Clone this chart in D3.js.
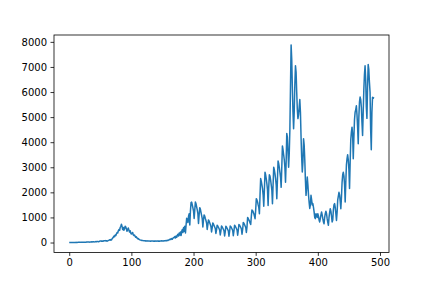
<!DOCTYPE html>
<html>
<head>
<meta charset="utf-8">
<script src="https://cdn.jsdelivr.net/npm/d3@7"></script>
<style>
  body { margin: 0; background: #fff; }
  svg { display: block; }
  .tick text { font-family: "DejaVu Sans", sans-serif; font-size: 10px; fill: #000; }
</style>
</head>
<body>
<script>
// daily values (day 0 .. 490)
var cases = [
  0, 2, 2, 3, 2, 1, 3,
  4, 3, 5, 4, 6, 3, 5,
  7, 8, 6, 9, 10, 6, 8,
  12, 11, 14, 13, 15, 10, 12,
  18, 20, 17, 22, 19, 15, 21,
  25, 28, 24, 30, 27, 22, 26,
  35, 38, 33, 40, 36, 30, 37,
  55, 62, 58, 50, 65, 48, 60,
  70, 66, 78, 60, 72, 55, 68,
  85, 90, 110, 95, 120, 100, 150,
  180, 210, 260, 230, 300, 280, 350,
  400, 380, 470, 520, 480, 600, 650,
  730, 640, 520, 600, 490, 560, 650,
  620, 540, 450, 520, 580, 500, 420,
  470, 380, 340, 360, 400, 310, 280,
  300, 250, 210, 230, 180, 150, 160,
  130, 120, 100, 95, 90, 80, 85,
  75, 70, 72, 65, 68, 60, 66,
  62, 58, 64, 55, 60, 52, 58,
  60, 56, 62, 54, 58, 50, 57,
  58, 55, 63, 52, 60, 54, 62,
  64, 60, 70, 58, 66, 60, 72,
  75, 70, 82, 68, 90, 78, 100,
  120, 110, 140, 125, 160, 135, 180,
  200, 190, 240, 180, 260, 210, 290,
  330, 260, 380, 300, 420, 280, 450,
  520, 400, 600, 450, 650, 380, 700,
  970, 880, 800, 1050, 1150, 700, 1250,
  1590, 1610, 1500, 1380, 1250, 960, 1300,
  1620, 1550, 1420, 1300, 1150, 760, 1100,
  1390, 1330, 1200, 1080, 950, 620, 900,
  1100, 1050, 960, 880, 780, 520, 700,
  900, 860, 790, 720, 640, 420, 580,
  780, 740, 680, 620, 560, 360, 500,
  690, 660, 610, 560, 500, 300, 450,
  660, 630, 580, 530, 470, 260, 420,
  650, 620, 570, 520, 460, 250, 430,
  660, 640, 590, 540, 480, 270, 450,
  690, 660, 610, 560, 500, 290, 480,
  720, 700, 650, 600, 540, 330, 520,
  800, 770, 720, 660, 600, 400, 620,
  1000, 960, 900, 850, 780, 720, 1050,
  1300, 1270, 1220, 1150, 1050, 950, 1300,
  1750, 1700, 1620, 1500, 1400, 1150, 1900,
  2550, 2450, 2300, 2150, 1900, 1450, 2100,
  2800, 2700, 2550, 2350, 2100, 1480, 2200,
  2700, 2650, 2500, 2300, 2100, 1550, 2300,
  3000, 2900, 2750, 2550, 2300, 1750, 2500,
  3250, 3150, 3000, 2800, 2600, 2200, 3000,
  3850, 3700, 3500, 3300, 3000, 2400, 3200,
  4350, 4200, 3600, 3000, 3550, 4500, 6200,
  7880, 7300, 6200, 5200, 4540, 5200, 6300,
  7050, 6800, 6000, 5300, 4940, 5100, 5400,
  5700, 5200, 4200, 3400, 2810, 3200, 4140,
  3900, 3300, 2500, 1880, 2200, 2610, 2300,
  1900, 1600, 1360, 1500, 1880, 1700, 1500,
  1550, 1400, 1220, 1000, 950, 1150, 1100,
  1000, 1150, 1050, 900, 820, 950, 1100,
  1220, 1100, 950, 820, 750, 1000, 1150,
  1250, 1150, 950, 800, 690, 1000, 1200,
  1350, 1250, 1050, 820, 900, 1300, 1500,
  1550, 1400, 1150, 880, 1200, 1700, 1850,
  2000, 1900, 1650, 1350, 1800, 2400, 2700,
  2800, 2650, 2300, 1620, 2400, 3100, 3350,
  3500, 3300, 2900, 2150, 3200, 4100, 4400,
  4600, 4300, 3340, 4200, 4900, 5200, 5300,
  5450, 5100, 4600, 3940, 5000, 5600, 5800,
  5700, 5400, 4800, 4270, 5200, 6100, 6700,
  7050, 6500, 5400, 4950, 6200, 7100, 6900,
  6400, 6000, 4500, 3700, 5200, 5790, 5750,
  5800
];
var xTicks = [0, 100, 200, 300, 400, 500];
var yTicks = [0, 1000, 2000, 3000, 4000, 5000, 6000, 7000, 8000];

var width = 432, height = 288;
var plotLeft = 54, plotRight = 389, plotTop = 35, plotBottom = 252.4;

var svg = d3.select('body').append('svg')
  .attr('width', width)
  .attr('height', height);

// matplotlib style 5% margins
var n = cases.length - 1;
var yExt = d3.extent(cases);
var yPad = (yExt[1] - yExt[0]) * 0.05;

var x = d3.scaleLinear()
  .domain([-n * 0.05, n * 1.05])
  .range([plotLeft, plotRight]);

var y = d3.scaleLinear()
  .domain([yExt[0] - yPad, yExt[1] + yPad])
  .range([plotBottom, plotTop]);

var line = d3.line()
  .x(function(d, i) { return x(i); })
  .y(function(d) { return y(d); });

svg.append('path')
  .datum(cases)
  .attr('d', line)
  .attr('fill', 'none')
  .attr('stroke', '#1f77b4')
  .attr('stroke-width', 1.5)
  .attr('stroke-linejoin', 'round');

var xAxis = svg.append('g')
  .attr('transform', 'translate(0,' + plotBottom + ')')
  .call(d3.axisBottom(x).tickValues(xTicks).tickSize(3.5).tickPadding(3.5).tickFormat(d3.format('d')));

var yAxis = svg.append('g')
  .attr('transform', 'translate(' + plotLeft + ',0)')
  .call(d3.axisLeft(y).tickValues(yTicks).tickSize(3.5).tickPadding(3.5).tickFormat(d3.format('d')));

[xAxis, yAxis].forEach(function(g) {
  g.select('.domain').remove();
  g.selectAll('.tick line').attr('stroke', '#000').attr('stroke-width', 0.8);
});

// frame
svg.append('rect')
  .attr('x', plotLeft)
  .attr('y', plotTop)
  .attr('width', plotRight - plotLeft)
  .attr('height', plotBottom - plotTop)
  .attr('fill', 'none')
  .attr('stroke', '#000')
  .attr('stroke-width', 0.8);
</script>
</body>
</html>
